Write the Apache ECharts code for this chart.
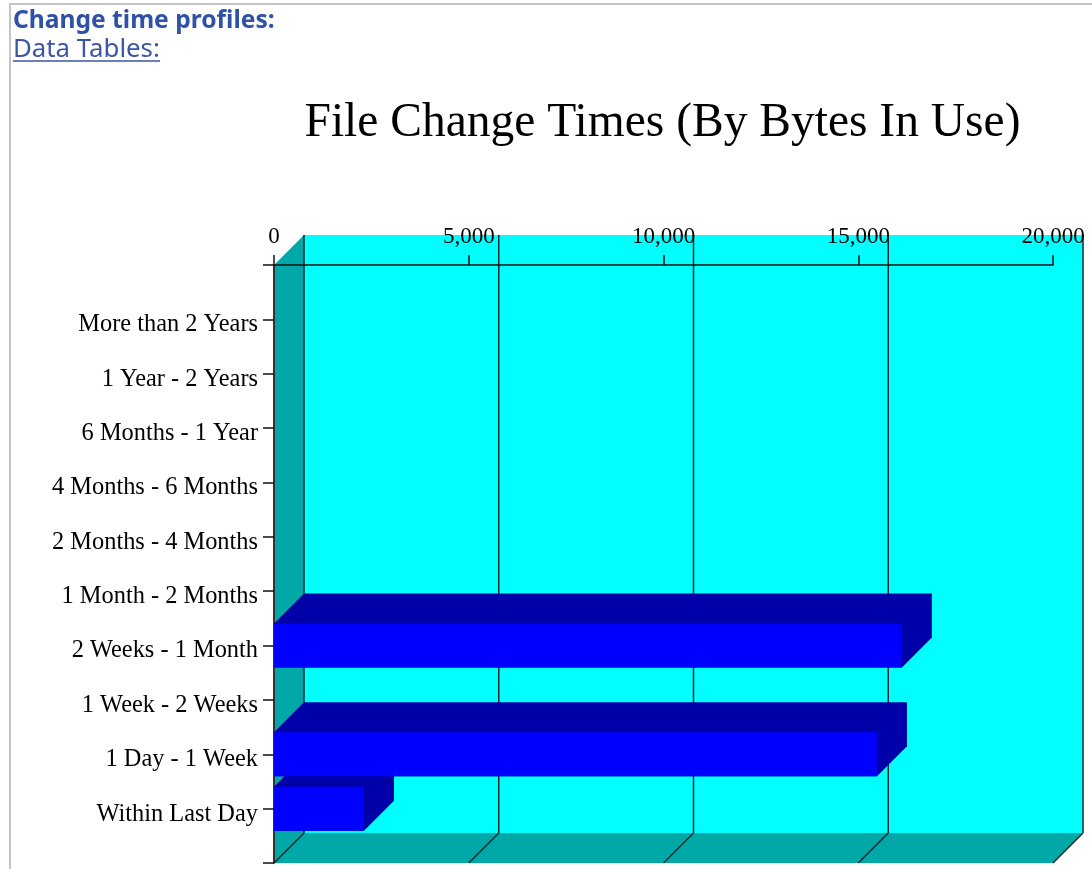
<!DOCTYPE html>
<html>
<head>
<meta charset="utf-8">
<title>File Change Times</title>
<style>
    html, body { margin: 0; padding: 0; background: #fff; }
    #frame { position: absolute; left: 9px; top: 3px; right: 0; bottom: 0; border-left: 2px solid #c4c4c4; border-top: 2px solid #c4c4c4; }
    #main { position: absolute; left: 0; top: 0; width: 1092px; height: 869px; }
</style>
</head>
<body>
<div id="frame"></div>
<div id="main"></div>
<script src="https://cdn.jsdelivr.net/npm/echarts@6/dist/echarts.min.js"></script>
<script>
// top to bottom, as on the picture
var categories = ['More than 2 Years', '1 Year - 2 Years', '6 Months - 1 Year', '4 Months - 6 Months', '2 Months - 4 Months',
    '1 Month - 2 Months', '2 Weeks - 1 Month', '1 Week - 2 Weeks', '1 Day - 1 Week', 'Within Last Day'];
var bytesInUse = [0, 0, 0, 0, 0, 0, 16120, 0, 15480, 2310];
var xTicks = [0, 5000, 10000, 15000, 20000];

var DEPTH = 30;      // offset of the fake 3d back wall
var BAR_HEIGHT = 44;

// blank slots at both ends so the ticks fall like the original
var yData = [''].concat(categories, ['']);
var barData = [];
bytesInUse.forEach(function (v, i) {
    if (v > 0) barData.unshift([v, i + 1]); // lower bars first, upper ones paint over them
});

function poly(points, color) {
    return { type: 'polygon', shape: { points: points }, style: { fill: color }, silent: true };
}
function line(x1, y1, x2, y2) {
    return { type: 'line', shape: { x1: x1, y1: y1, x2: x2, y2: y2 }, style: { stroke: '#0a2a2a', lineWidth: 1.5 }, silent: true };
}

function renderWalls(params, api) {
    var topLeft = api.coord([0, 0]);
    var bottomRight = api.coord([xTicks[xTicks.length - 1], yData.length - 1]);
    var x0 = topLeft[0], y0 = topLeft[1], x1 = bottomRight[0], y1 = bottomRight[1];
    var children = [
        poly([[x0 + DEPTH, y0 - DEPTH], [x1 + DEPTH, y0 - DEPTH], [x1 + DEPTH, y1 - DEPTH], [x0 + DEPTH, y1 - DEPTH]], '#00ffff'),
        poly([[x0, y0], [x0 + DEPTH, y0 - DEPTH], [x0 + DEPTH, y1 - DEPTH], [x0, y1]], '#00a8a8'),
        poly([[x0, y1], [x0 + DEPTH, y1 - DEPTH], [x1 + DEPTH, y1 - DEPTH], [x1, y1]], '#00a8a8')
    ];
    xTicks.forEach(function (t) {
        var x = api.coord([t, 0])[0];
        children.push(line(x + DEPTH, y0 - DEPTH, x + DEPTH, y1 - DEPTH));
        children.push(line(x, y1, x + DEPTH, y1 - DEPTH));
    });
    return { type: 'group', children: children };
}

function renderBar(params, api) {
    var start = api.coord([0, api.value(1)]);
    var end = api.coord([api.value(0), api.value(1)]);
    var top = start[1] - BAR_HEIGHT / 2;
    var bottom = start[1] + BAR_HEIGHT / 2;
    var x0 = start[0], x1 = end[0];
    return {
        type: 'group',
        children: [
            // top and right faces as one shape, no seam between them
            poly([[x0, top], [x0 + DEPTH, top - DEPTH], [x1 + DEPTH, top - DEPTH], [x1 + DEPTH, bottom - DEPTH], [x1, bottom], [x0, bottom]], '#0000a8'),
            poly([[x0, top], [x1, top], [x1, bottom], [x0, bottom]], '#0000ff')
        ]
    };
}

var chart = echarts.init(document.getElementById('main'));
var serif = '"Liberation Serif", serif';
var option = {
    animation: false,
    title: [
        { text: 'Change time profiles:', left: 13, top: 8, padding: 0, textStyle: { fontFamily: '"Noto Sans", sans-serif', fontSize: 24.6, fontWeight: 'bold', color: '#2f52a8' } },
        { text: 'Data Tables:', left: 13, top: 37, padding: 0, textStyle: { fontFamily: '"Noto Sans", sans-serif', fontSize: 25.8, fontWeight: 'normal', color: '#3d55a5' } },
        { text: 'File Change Times (By Bytes In Use)', left: 662.5, top: 100, padding: 0, textAlign: 'center', textStyle: { fontFamily: serif, fontSize: 47.5, fontWeight: 'normal', color: '#000' } }
    ],
    graphic: [
        { type: 'line', shape: { x1: 13, y1: 61, x2: 160, y2: 61 }, style: { stroke: '#3d55a5', lineWidth: 1.5 } }
    ],
    grid: { left: 274, top: 265, width: 779, height: 598 },
    xAxis: {
        type: 'value',
        position: 'top',
        min: 0,
        max: 20000,
        interval: 5000,
        z: 2,
        splitLine: { show: false },
        axisLine: { show: true, lineStyle: { color: '#111', width: 1.5 } },
        axisTick: { show: true, length: 10, lineStyle: { color: '#111', width: 1.5 } },
        axisLabel: {
            margin: 17,
            fontFamily: serif,
            fontSize: 23,
            color: '#000',
            showMinLabel: true,
            showMaxLabel: true,
            formatter: function (v) { return v.toLocaleString('en-US'); }
        }
    },
    yAxis: {
        type: 'category',
        inverse: true,
        boundaryGap: false,
        data: yData,
        z: 2,
        axisLine: { show: true, onZero: false, lineStyle: { color: '#333', width: 2 } },
        axisTick: { show: true, length: 11, interval: 0, lineStyle: { color: '#111', width: 1.5 } },
        axisLabel: { interval: 0, margin: 16, fontFamily: serif, fontSize: 24.4, color: '#000', verticalAlign: 'top', lineHeight: 11 }
    },
    series: [
        { type: 'custom', name: 'walls', z: 1, clip: false, silent: true, renderItem: renderWalls, data: [[0, 0]], encode: { x: 0, y: 1 } },
        { type: 'custom', name: 'Bytes In Use', z: 3, clip: false, renderItem: renderBar, data: barData, encode: { x: 0, y: 1 } }
    ]
};
chart.setOption(option);
window.addEventListener('resize', function () {
    chart.resize();
});
</script>
</body>
</html>
